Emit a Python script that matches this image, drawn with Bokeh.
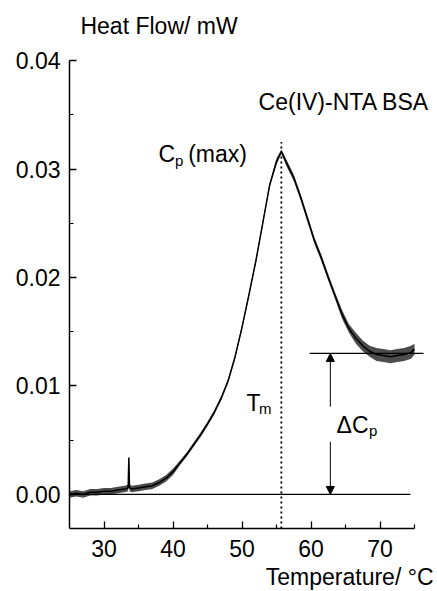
from bokeh.plotting import figure
from bokeh.models import Label, Arrow, NormalHead, FixedTicker, PrintfTickFormatter, Title
from bokeh.embed import file_html
from bokeh.resources import INLINE

# ---- data ----
temperature = [25, 26, 27, 28, 29, 30, 31, 32, 33, 33.5, 33.6, 33.7, 34, 35, 36, 37, 38, 39,
               40, 41, 42, 43, 44, 45, 46, 47, 48, 49, 50, 51, 52, 53, 54, 55, 55.7, 56.5,
               57.5, 58.5, 59.5, 60.5, 61.5, 62.5, 63.5, 64.5, 65.5, 66.5, 67.5, 68.5, 69.5,
               70.5, 71.5, 72.5, 73.5, 74.5, 75]
heat_flow = [0.0000, 0.0001, 0.0000, 0.0002, 0.0002, 0.0003, 0.0003, 0.0004, 0.0005, 0.0006,
             0.0034, 0.0006, 0.0005, 0.0006, 0.0007, 0.0008, 0.0011, 0.0015, 0.0021, 0.0029,
             0.0037, 0.0046, 0.0055, 0.0065, 0.0076, 0.0089, 0.0105, 0.0127, 0.0154, 0.0184,
             0.0215, 0.0250, 0.0285, 0.0307, 0.0316, 0.0305, 0.0292, 0.0274, 0.0254, 0.0234,
             0.0218, 0.0200, 0.0183, 0.0166, 0.0153, 0.0144, 0.0137, 0.0132, 0.0129, 0.0128,
             0.0127, 0.0128, 0.0129, 0.0131, 0.0134]
noise_half = [0.0003, 0.0003, 0.0003, 0.0003, 0.0003, 0.0003, 0.0003, 0.0003, 0.0003, 0.0003,
              0.0002, 0.0003, 0.0003, 0.0003, 0.0003, 0.0003, 0.0003, 0.0003, 0.0003, 0.0002,
              0.0002, 0.0002, 0.0002, 0.0002, 0.0002, 0.0002, 0.0002, 0.0002, 0.0002, 0.0002,
              0.0002, 0.0002, 0.0002, 0.0003, 0.0002, 0.0003, 0.0003, 0.0003, 0.0003, 0.0003,
              0.0003, 0.0003, 0.0003, 0.0004, 0.0004, 0.0005, 0.0005, 0.0005, 0.0006, 0.0006,
              0.0006, 0.0006, 0.0006, 0.0006, 0.0005]

x_ticks = [30, 40, 50, 60, 70]
x_minor_ticks = [35, 45, 55, 65, 75]
y_ticks = [0.00, 0.01, 0.02, 0.03, 0.04]
y_minor_ticks = [0.005, 0.015, 0.025, 0.035]

y_axis_min = -0.00314
y_axis_max = 0.04
tm_temp = 55.7          # melting temperature (dotted line)
tm_line_top = 0.0325
baseline_level = 0.0
baseline_end = 74.4
tail_level = 0.013
tail_start = 59.8
tail_end = 76.3
delta_arrow_temp = 62.8
delta_gap_low = 0.00485
delta_gap_high = 0.0081

FONT = "Liberation Sans"
FS = "23px"
SUB = "15px"

p = figure(width=437, height=591, x_range=(25, 78.33), y_range=(y_axis_min, 0.04554),
           output_backend="svg", toolbar_location=None,
           min_border_left=69, min_border_right=0, min_border_top=0, min_border_bottom=0)
p.outline_line_color = None
p.grid.visible = False
p.background_fill_color = "white"
p.border_fill_color = "white"

# x-axis heading below right
p.add_layout(Title(text="Temperature/ °C", align="right", offset=4, standoff=4,
                   text_font=FONT, text_font_size=FS, text_font_style="normal",
                   text_color="black"), "below")

# axes
for ax in (p.xaxis[0], p.yaxis[0]):
    ax.axis_line_width = 1.5
    ax.axis_line_color = "black"
    ax.major_tick_in = 7
    ax.major_tick_out = 0
    ax.minor_tick_in = 4
    ax.minor_tick_out = 0
    ax.major_tick_line_width = 1.3
    ax.minor_tick_line_width = 1.2
    ax.major_tick_line_color = "black"
    ax.minor_tick_line_color = "black"
    ax.major_label_text_font = FONT
    ax.major_label_text_font_size = "23px"
    ax.major_label_text_color = "black"

p.xaxis.ticker = FixedTicker(ticks=x_ticks, minor_ticks=x_minor_ticks)
p.xaxis.bounds = (25, 75)
p.xaxis.major_label_standoff = 11
p.yaxis.ticker = FixedTicker(ticks=y_ticks, minor_ticks=y_minor_ticks)
p.yaxis.formatter = PrintfTickFormatter(format="%.2f")
p.yaxis.major_label_standoff = 9
p.yaxis.bounds = (y_axis_min, y_axis_max)

# noisy DSC trace
lo = [h - n for h, n in zip(heat_flow, noise_half)]
hi = [h + n for h, n in zip(heat_flow, noise_half)]
p.varea(x=temperature, y1=lo, y2=hi, fill_color="black", fill_alpha=0.7)
p.line(temperature, heat_flow, line_color="black", line_width=1.5)

# baseline and tail level lines
p.segment(x0=[temperature[0]], y0=[baseline_level], x1=[baseline_end], y1=[baseline_level],
          line_color="black", line_width=1.3)
p.segment(x0=[tail_start], y0=[tail_level], x1=[tail_end], y1=[tail_level],
          line_color="black", line_width=1.3)

# Tm dotted line
p.segment(x0=[tm_temp], y0=[y_axis_min], x1=[tm_temp], y1=[tm_line_top],
          line_color="black", line_width=1.8, line_dash="2 3")

# delta Cp arrows
head = dict(size=8, fill_color="black", line_color="black", line_width=1)
p.add_layout(Arrow(end=NormalHead(**head), x_start=delta_arrow_temp, y_start=delta_gap_high,
                   x_end=delta_arrow_temp, y_end=tail_level, line_color="black", line_width=1))
p.add_layout(Arrow(end=NormalHead(**head), x_start=delta_arrow_temp, y_start=delta_gap_low,
                   x_end=delta_arrow_temp, y_end=baseline_level, line_color="black", line_width=1))

DY = 0.0006  # small upward nudge of text baselines


def lab(x, y, text, size=FS, align="left"):
    p.add_layout(Label(x=x, y=y + DY, text=text, text_font=FONT, text_font_size=size,
                       text_color="black", text_align=align, text_baseline="alphabetic"))


lab(26.59, 0.04261, "Heat Flow/ mW")
lab(52.4, 0.03557, "Ce(IV)-NTA BSA")
# Cp (max)
lab(37.9, 0.03076, "C")
lab(40.3, 0.0302, "p", size=SUB)
lab(42.2, 0.03076, "(max)")
# Tm
lab(50.65, 0.00785, "T")
lab(52.45, 0.0073, "m", size=SUB)
# delta Cp
lab(63.7, 0.00582, "ΔC")
lab(68.4, 0.00527, "p", size=SUB)

open("out.html", "w").write(file_html(p, INLINE))
